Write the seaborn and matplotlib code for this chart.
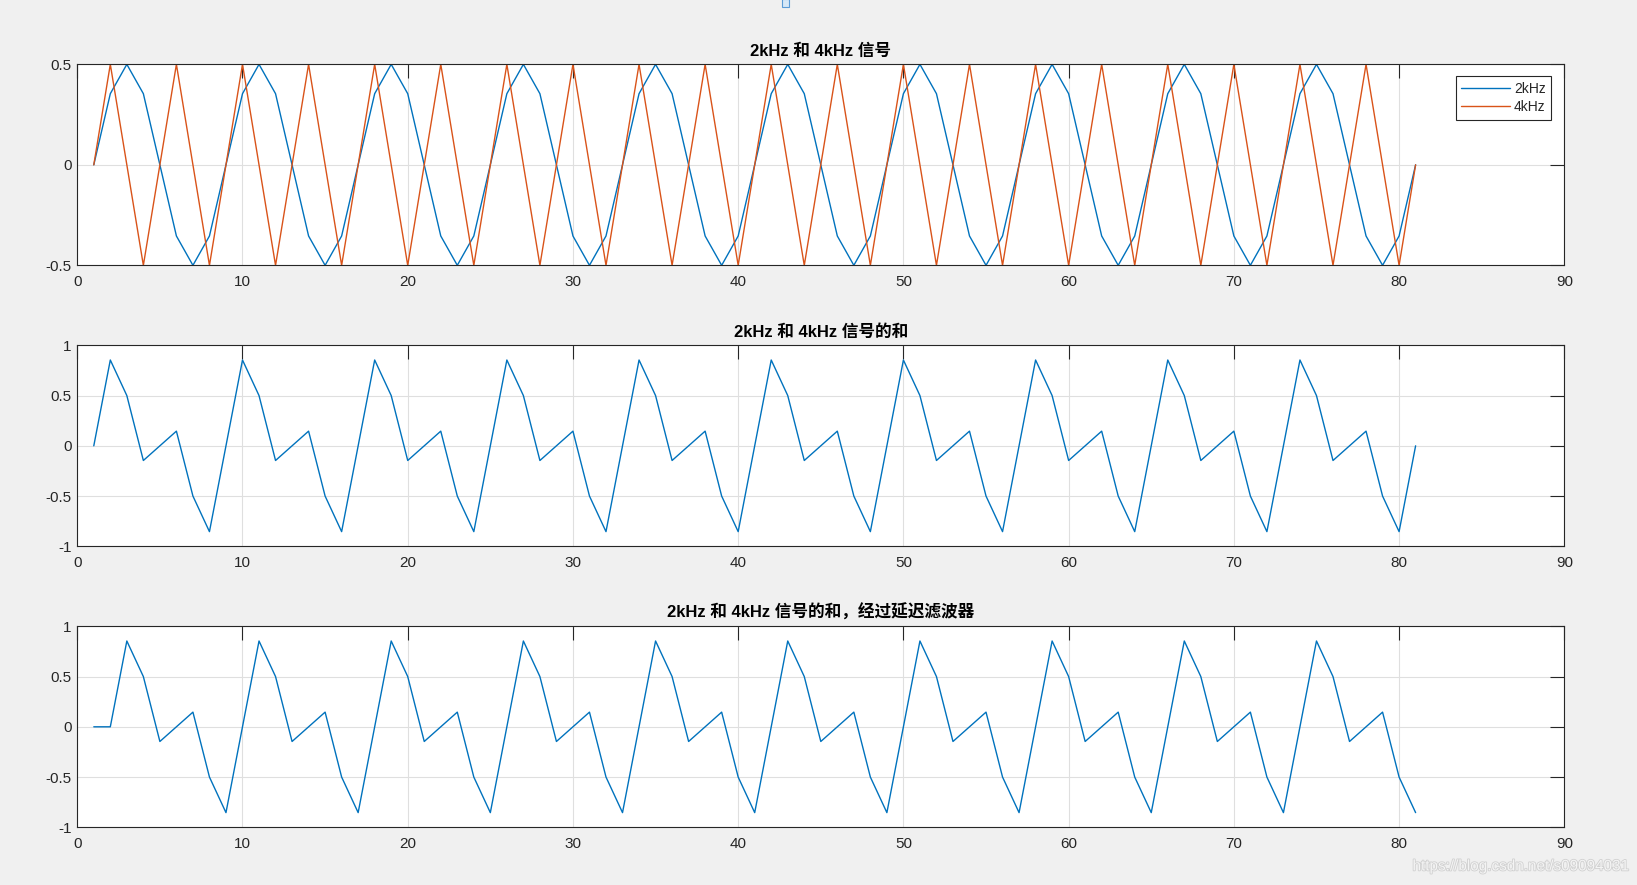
import matplotlib
matplotlib.use("Agg")
import matplotlib.pyplot as plt
import matplotlib.patheffects as pe
from matplotlib.patches import Rectangle
from matplotlib.ticker import FormatStrFormatter
import seaborn as sns

# 采样点序号
n = list(range(1, 82))

# 2kHz 信号
s2k = [
    0, 0.354, 0.5, 0.354, 0, -0.354, -0.5, -0.354,
    0, 0.354, 0.5, 0.354, 0, -0.354, -0.5, -0.354,
    0, 0.354, 0.5, 0.354, 0, -0.354, -0.5, -0.354,
    0, 0.354, 0.5, 0.354, 0, -0.354, -0.5, -0.354,
    0, 0.354, 0.5, 0.354, 0, -0.354, -0.5, -0.354,
    0, 0.354, 0.5, 0.354, 0, -0.354, -0.5, -0.354,
    0, 0.354, 0.5, 0.354, 0, -0.354, -0.5, -0.354,
    0, 0.354, 0.5, 0.354, 0, -0.354, -0.5, -0.354,
    0, 0.354, 0.5, 0.354, 0, -0.354, -0.5, -0.354,
    0, 0.354, 0.5, 0.354, 0, -0.354, -0.5, -0.354,
    0,
]

# 4kHz 信号
s4k = [
    0, 0.5, 0, -0.5, 0, 0.5, 0, -0.5,
    0, 0.5, 0, -0.5, 0, 0.5, 0, -0.5,
    0, 0.5, 0, -0.5, 0, 0.5, 0, -0.5,
    0, 0.5, 0, -0.5, 0, 0.5, 0, -0.5,
    0, 0.5, 0, -0.5, 0, 0.5, 0, -0.5,
    0, 0.5, 0, -0.5, 0, 0.5, 0, -0.5,
    0, 0.5, 0, -0.5, 0, 0.5, 0, -0.5,
    0, 0.5, 0, -0.5, 0, 0.5, 0, -0.5,
    0, 0.5, 0, -0.5, 0, 0.5, 0, -0.5,
    0, 0.5, 0, -0.5, 0, 0.5, 0, -0.5,
    0,
]

# 两信号之和
s_sum = [
    0, 0.854, 0.5, -0.146, 0, 0.146, -0.5, -0.854,
    0, 0.854, 0.5, -0.146, 0, 0.146, -0.5, -0.854,
    0, 0.854, 0.5, -0.146, 0, 0.146, -0.5, -0.854,
    0, 0.854, 0.5, -0.146, 0, 0.146, -0.5, -0.854,
    0, 0.854, 0.5, -0.146, 0, 0.146, -0.5, -0.854,
    0, 0.854, 0.5, -0.146, 0, 0.146, -0.5, -0.854,
    0, 0.854, 0.5, -0.146, 0, 0.146, -0.5, -0.854,
    0, 0.854, 0.5, -0.146, 0, 0.146, -0.5, -0.854,
    0, 0.854, 0.5, -0.146, 0, 0.146, -0.5, -0.854,
    0, 0.854, 0.5, -0.146, 0, 0.146, -0.5, -0.854,
    0,
]

# 经过延迟滤波器后的和
s_delay = [
    0,
    0, 0.854, 0.5, -0.146, 0, 0.146, -0.5, -0.854,
    0, 0.854, 0.5, -0.146, 0, 0.146, -0.5, -0.854,
    0, 0.854, 0.5, -0.146, 0, 0.146, -0.5, -0.854,
    0, 0.854, 0.5, -0.146, 0, 0.146, -0.5, -0.854,
    0, 0.854, 0.5, -0.146, 0, 0.146, -0.5, -0.854,
    0, 0.854, 0.5, -0.146, 0, 0.146, -0.5, -0.854,
    0, 0.854, 0.5, -0.146, 0, 0.146, -0.5, -0.854,
    0, 0.854, 0.5, -0.146, 0, 0.146, -0.5, -0.854,
    0, 0.854, 0.5, -0.146, 0, 0.146, -0.5, -0.854,
    0, 0.854, 0.5, -0.146, 0, 0.146, -0.5, -0.854,
]

titles = ["2kHz 和 4kHz 信号", "2kHz 和 4kHz 信号的和", "2kHz 和 4kHz 信号的和，经过延迟滤波器"]

BLUE = "#0072BD"
ORANGE = "#D95319"
DARK = "#262626"

sns.set_theme(style="white")
plt.rcParams["font.family"] = ["Liberation Sans", "Noto Sans CJK SC", "DejaVu Sans"]
plt.rcParams["axes.unicode_minus"] = False

fig = plt.figure(figsize=(16.37, 8.85), dpi=100, facecolor="#F0F0F0")

left, width, height = 0.0472, 0.9084, 0.2271
bottoms = [0.7002, 0.3827, 0.0652]
axes = [fig.add_axes([left, b, width, height]) for b in bottoms]


def style_axes(ax, ylim, yticks, title):
    ax.set_facecolor("white")
    ax.set_xlim(0, 90)
    ax.set_ylim(*ylim)
    ax.set_xticks(range(0, 91, 10))
    ax.set_yticks(yticks)
    ax.yaxis.set_major_formatter(FormatStrFormatter("%g"))
    ax.grid(True, color="#DFDFDF", linewidth=0.8, zorder=0)
    ax.set_axisbelow(True)
    for sp in ax.spines.values():
        sp.set_color(DARK)
        sp.set_linewidth(0.8)
        sp.set_visible(True)
    ax.tick_params(direction="in", length=10, width=0.8, color=DARK,
                   top=True, right=True, labelsize=11, labelcolor=DARK)
    ax.tick_params(axis="x", pad=7)
    ax.tick_params(axis="y", pad=4)
    ax.set_xlabel("")
    ax.set_ylabel("")
    ax.set_title(title, fontsize=12, fontweight="bold", color="black", pad=6)


# 第一幅：两个信号
ax = axes[0]
sns.lineplot(x=n, y=s2k, ax=ax, color=BLUE, linewidth=1.0, label="2kHz")
sns.lineplot(x=n, y=s4k, ax=ax, color=ORANGE, linewidth=1.0, label="4kHz")
style_axes(ax, (-0.5, 0.5), [-0.5, 0, 0.5], titles[0])
leg = ax.legend(loc="upper right", bbox_to_anchor=(0.9913, 0.9404), borderaxespad=0,
                fontsize=10, handlelength=3.5, handletextpad=0.3, borderpad=0.4,
                labelspacing=0.3, fancybox=False, framealpha=1, edgecolor=DARK)
leg.get_frame().set_linewidth(0.8)
for t in leg.get_texts():
    t.set_color(DARK)

# 第二幅：和
sns.lineplot(x=n, y=s_sum, ax=axes[1], color=BLUE, linewidth=1.0)
style_axes(axes[1], (-1, 1), [-1, -0.5, 0, 0.5, 1], titles[1])

# 第三幅：延迟后的和
sns.lineplot(x=n, y=s_delay, ax=axes[2], color=BLUE, linewidth=1.0)
style_axes(axes[2], (-1, 1), [-1, -0.5, 0, 0.5, 1], titles[2])

# 顶部小方块（窗口控件）
fig.patches.append(Rectangle((782 / 1637, 1 - 7 / 885), 7 / 1637, 8 / 885,
                             transform=fig.transFigure, facecolor="#D6E8F7",
                             edgecolor="#5B9BD5", linewidth=0.8))

# 水印
fig.text(0.9945, 0.021, "https://blog.csdn.net/s09094031", ha="right", va="center",
         fontsize=11, color="#F4F4F4",
         path_effects=[pe.withStroke(linewidth=1.2, foreground="#D0D0D0")])

fig.savefig("out.png", dpi=100, facecolor=fig.get_facecolor())
